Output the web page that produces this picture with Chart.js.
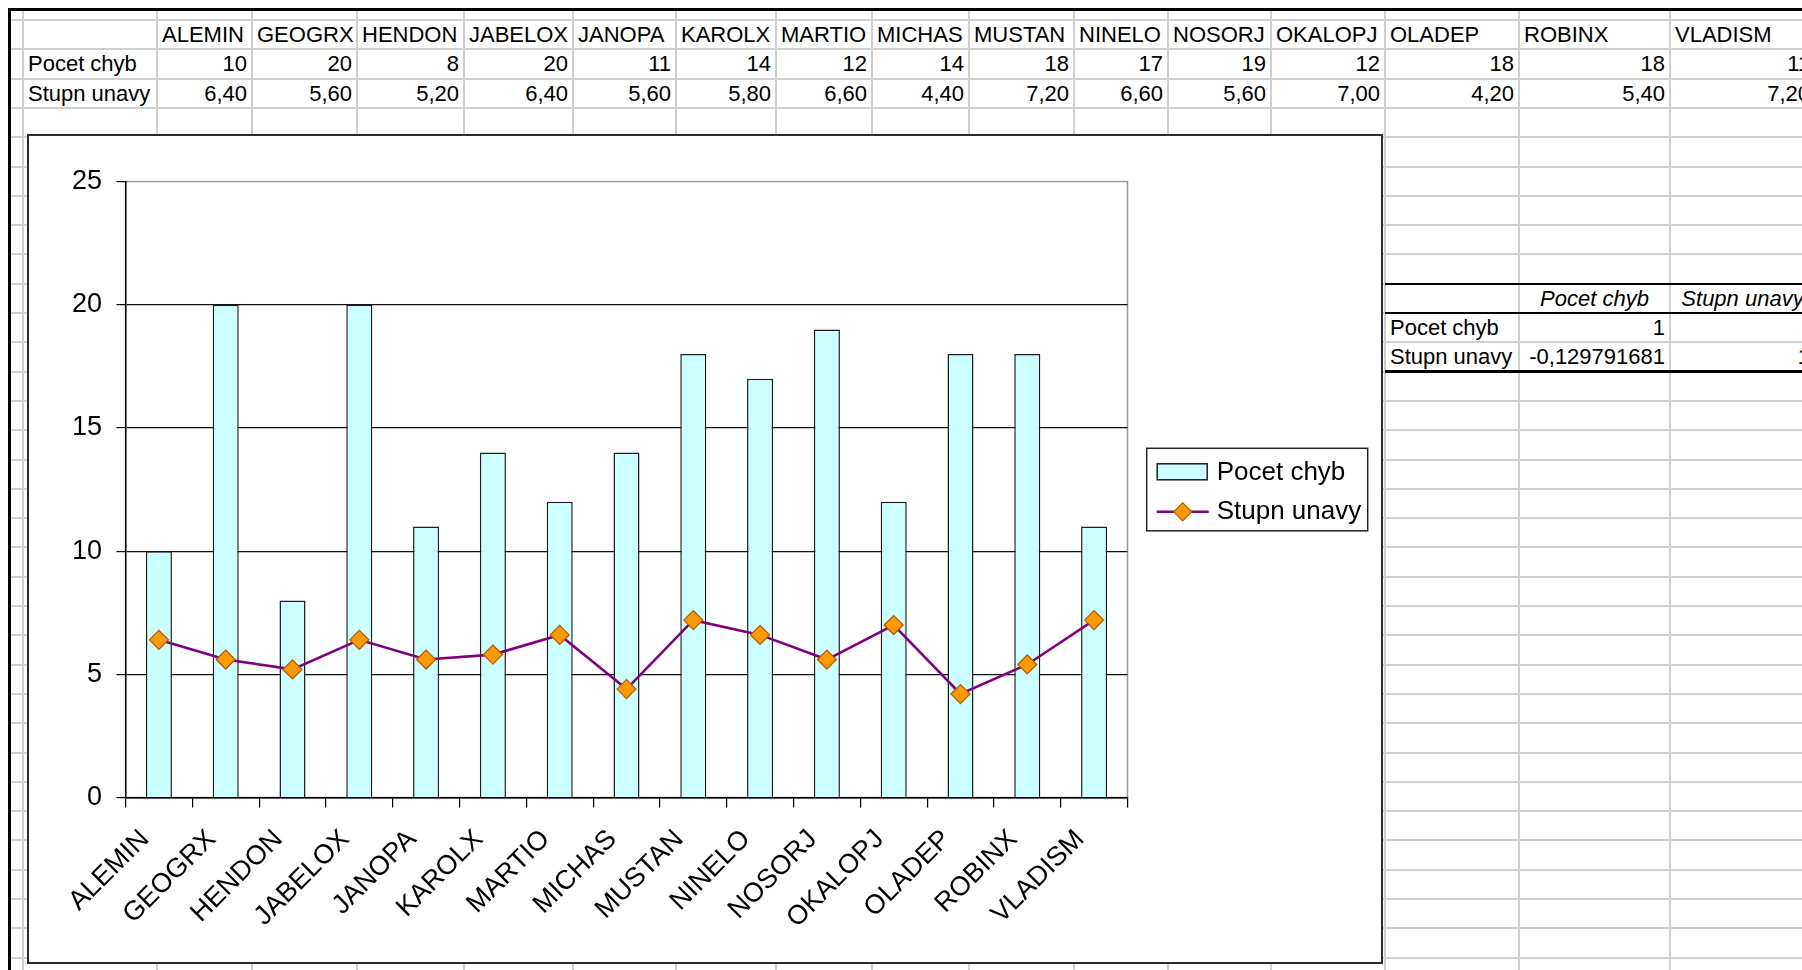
<!DOCTYPE html>
<html>
<head>
<meta charset="utf-8">
<title>Pocet chyb / Stupn unavy</title>
<script src="https://cdn.jsdelivr.net/npm/chart.js@4/dist/chart.umd.min.js"></script>
<style>
  html, body { margin: 0; padding: 0; background: #fff; }
  body {
    width: 1802px; height: 970px; overflow: hidden; position: relative;
    font-family: "Liberation Sans", Arial, sans-serif;
  }
  .gl { position: absolute; background: #cfcfcf; }
  .bk { position: absolute; background: #000; }
  .cell {
    position: absolute; box-sizing: border-box; padding: 0 5px;
    font-size: 22px; color: #000; white-space: nowrap; overflow: hidden;
  }
  #chartBox {
    position: absolute; left: 27px; top: 134px; width: 1356px; height: 830px;
    box-sizing: border-box; border: 2px solid #2b2b2b; background: #fff; z-index: 5;
  }
  #chart { position: absolute; left: 0; top: 0; }
</style>
</head>
<body>
<div id="sheet"></div>
<div id="chartBox"><canvas id="chart" width="1352" height="826"></canvas></div>
<script>
// ---- data ----
const categories = ['ALEMIN', 'GEOGRX', 'HENDON', 'JABELOX', 'JANOPA', 'KAROLX', 'MARTIO', 'MICHAS',
                    'MUSTAN', 'NINELO', 'NOSORJ', 'OKALOPJ', 'OLADEP', 'ROBINX', 'VLADISM'];
const pocetChyb  = [10, 20, 8, 20, 11, 14, 12, 14, 18, 17, 19, 12, 18, 18, 11];
const stupnUnavy = [6.4, 5.6, 5.2, 6.4, 5.6, 5.8, 6.6, 4.4, 7.2, 6.6, 5.6, 7.0, 4.2, 5.4, 7.2];
const seriesNames = ['Pocet chyb', 'Stupn unavy'];
const yTicks = [0, 5, 10, 15, 20, 25];

// ---- worksheet grid ----
const sheet = document.getElementById('sheet');
const colEdges = [23, 157, 252, 357, 464, 573, 676, 776, 872, 969, 1074, 1168, 1271, 1385, 1519, 1670, 1815];
const rowTop = 20, rowH = 29.3, rowCount = 33;

function box(cls, l, t, w, h) {
  const d = document.createElement('div');
  d.className = cls;
  d.style.left = l + 'px'; d.style.top = t + 'px';
  d.style.width = w + 'px'; d.style.height = h + 'px';
  sheet.appendChild(d);
  return d;
}
for (const x of colEdges) if (x < 1802) box('gl', x - 1, 11, 2, 959);
for (let k = 0; k < rowCount; k++) box('gl', 11, rowTop + k * rowH - 1, 1791, 2);
// sheet frame
box('bk', 8, 8, 1794, 3);
box('bk', 8, 8, 3, 962);

function cell(col, row, text, align, italic) {
  const l = colEdges[col], w = colEdges[col + 1] - l;
  const d = box('cell', l, rowTop + row * rowH, w, rowH);
  d.style.lineHeight = rowH + 'px';
  d.style.textAlign = align || 'left';
  if (italic) d.style.fontStyle = 'italic';
  d.textContent = text;
}
const fmt2 = v => v.toFixed(2).replace('.', ',');

categories.forEach((c, i) => cell(i + 1, 0, c, 'left'));
cell(0, 1, seriesNames[0]);
cell(0, 2, seriesNames[1]);
pocetChyb.forEach((v, i) => cell(i + 1, 1, String(v), 'right'));
stupnUnavy.forEach((v, i) => cell(i + 1, 2, fmt2(v), 'right'));

// correlation matrix
function pearson(a, b) {
  const n = a.length;
  const ma = a.reduce((s, v) => s + v, 0) / n, mb = b.reduce((s, v) => s + v, 0) / n;
  let sab = 0, saa = 0, sbb = 0;
  for (let i = 0; i < n; i++) {
    sab += (a[i] - ma) * (b[i] - mb);
    saa += (a[i] - ma) ** 2;
    sbb += (b[i] - mb) ** 2;
  }
  return sab / Math.sqrt(saa * sbb);
}
const corr = pearson(pocetChyb, stupnUnavy);
cell(14, 9, seriesNames[0], 'center', true);
cell(15, 9, seriesNames[1], 'center', true);
cell(13, 10, seriesNames[0]);
cell(14, 10, '1', 'right');
cell(13, 11, seriesNames[1]);
cell(14, 11, corr.toPrecision(9).replace('.', ','), 'right');
cell(15, 11, '1', 'right');
box('bk', 1385, rowTop + 9 * rowH - 1.2, 417, 2.6);
box('bk', 1385, rowTop + 10 * rowH - 0.6, 417, 1.2);
box('bk', 1385, rowTop + 12 * rowH - 1.2, 417, 2.6);

// ---- chart ----
const FONT = '"Liberation Sans", Arial, sans-serif';
Chart.defaults.font.family = FONT;
Chart.defaults.color = '#000';

const BAR_FILL = '#CCFFFF', BAR_EDGE = '#1e1e1e';
const LINE_COLOR = '#800080', MARK_FILL = '#FF9900', MARK_EDGE = '#B35900';

// grey outline of the plot area (top and right sides stay visible)
const plotFrame = {
  id: 'plotFrame',
  beforeDraw(chart) {
    const { ctx, chartArea: a } = chart;
    ctx.save();
    ctx.strokeStyle = '#9a9a9a';
    ctx.lineWidth = 1.5;
    ctx.strokeRect(a.left, a.top, a.right - a.left, a.bottom - a.top);
    ctx.restore();
  }
};

function diamond(ctx, x, y, r) {
  ctx.beginPath();
  ctx.moveTo(x - r, y); ctx.lineTo(x, y - r); ctx.lineTo(x + r, y); ctx.lineTo(x, y + r);
  ctx.closePath();
}

// framed legend to the right of the plot
const framedLegend = {
  id: 'framedLegend',
  afterDraw(chart) {
    const { ctx, chartArea: a } = chart;
    const w = 221, h = 82.5;
    const left = a.right + 19.2;
    const top = (a.top + a.bottom) / 2 - h / 2;
    ctx.save();
    ctx.fillStyle = '#fff';
    ctx.fillRect(left, top, w, h);
    ctx.strokeStyle = '#222';
    ctx.lineWidth = 1.5;
    ctx.strokeRect(left, top, w, h);

    const barSet = chart.data.datasets.find(d => d.type === 'bar');
    const lineSet = chart.data.datasets.find(d => d.type === 'line');
    const y1 = top + 23.5, y2 = top + 63.5;

    ctx.fillStyle = barSet.backgroundColor;
    ctx.fillRect(left + 10.5, y1 - 8, 50, 16);
    ctx.strokeStyle = barSet.borderColor;
    ctx.lineWidth = 1.5;
    ctx.strokeRect(left + 10.5, y1 - 8, 50, 16);

    ctx.strokeStyle = lineSet.borderColor;
    ctx.lineWidth = lineSet.borderWidth;
    ctx.beginPath();
    ctx.moveTo(left + 10, y2); ctx.lineTo(left + 62, y2);
    ctx.stroke();
    diamond(ctx, left + 36, y2, 9);
    ctx.fillStyle = lineSet.pointBackgroundColor;
    ctx.fill();
    ctx.strokeStyle = lineSet.pointBorderColor;
    ctx.lineWidth = 1.2;
    ctx.stroke();

    ctx.fillStyle = '#000';
    ctx.font = '26px ' + FONT;
    ctx.textBaseline = 'middle';
    ctx.textAlign = 'left';
    ctx.fillText(barSet.label, left + 70, y1 + 1);
    ctx.fillText(lineSet.label, left + 70, y2 + 0.5);
    ctx.restore();
  }
};

new Chart(document.getElementById('chart'), {
  type: 'bar',
  data: {
    labels: categories,
    datasets: [
      {
        type: 'line',
        label: seriesNames[1],
        data: stupnUnavy,
        borderColor: LINE_COLOR,
        borderWidth: 2.6,
        tension: 0,
        pointStyle: 'rectRot',
        pointRadius: 9.5,
        pointBackgroundColor: MARK_FILL,
        pointBorderColor: MARK_EDGE,
        pointBorderWidth: 1.2,
        order: 0
      },
      {
        type: 'bar',
        label: seriesNames[0],
        data: pocetChyb,
        backgroundColor: BAR_FILL,
        borderColor: BAR_EDGE,
        borderWidth: 1.5,
        barPercentage: 0.39,
        categoryPercentage: 1,
        order: 1
      }
    ]
  },
  options: {
    responsive: false,
    animation: false,
    events: [],
    layout: { padding: { left: 0, top: 45.6, right: 253.5, bottom: 0 } },
    plugins: { legend: { display: false }, tooltip: { enabled: false } },
    scales: {
      x: {
        offset: true,
        grid: {
          offset: true, drawOnChartArea: false, drawTicks: true,
          tickLength: 10, color: '#000', lineWidth: 1.2
        },
        border: { display: true, color: '#000', width: 1.5 },
        ticks: {
          autoSkip: false, minRotation: 45, maxRotation: 45,
          font: { size: 27 }, color: '#000', padding: 16, labelOffset: -14
        },
        afterFit(s) { s.height = 164.5; }
      },
      y: {
        min: 0, max: 25,
        afterBuildTicks(s) { s.ticks = yTicks.map(v => ({ value: v })); },
        ticks: { font: { size: 27 }, color: '#000', padding: 14.5 },
        grid: {
          color: c => (c.tick && c.tick.value === 25) ? 'rgba(0,0,0,0)' : '#111',
          lineWidth: 1.2, drawTicks: true, tickLength: 9, tickColor: '#000'
        },
        border: { display: true, color: '#000', width: 1.5 },
        afterFit(s) { s.width = 96.5; }
      }
    }
  },
  plugins: [plotFrame, framedLegend]
});
</script>
</body>
</html>
